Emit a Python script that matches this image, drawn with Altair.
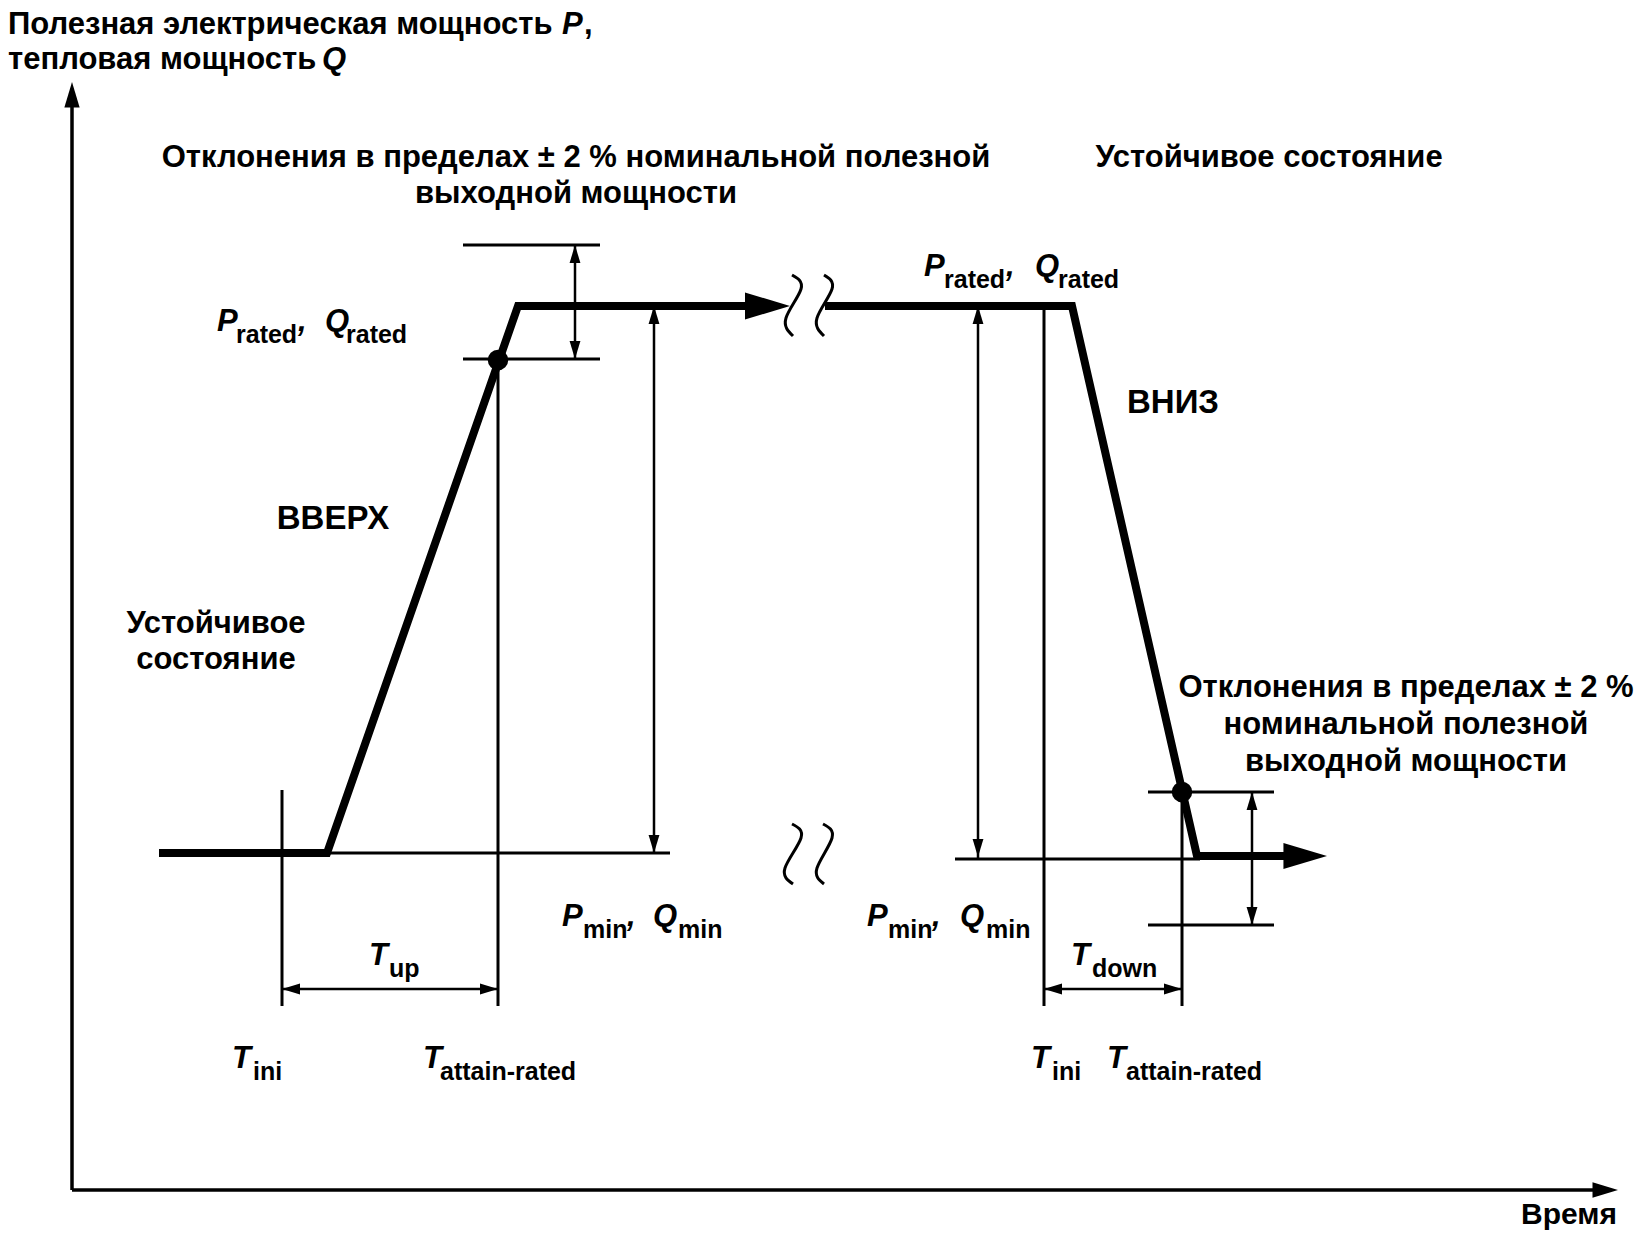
import altair as alt
import pandas as pd

FONT = "Liberation Sans"

# ---- thick profile (P/Q vs time) ----
thick_id = ["up", "up", "up", "up", "down", "down", "down", "down"]
thick_x = [159, 327, 518, 760, 825, 1072, 1197, 1300]
thick_y = [853, 853, 306, 306, 306, 306, 856, 856]
thick_ord = [0, 1, 2, 3, 4, 5, 6, 7]

# ---- thin segments (axes, guides, dimension lines) ----
thin_x1 = [72, 72, 463, 463, 575, 327, 282, 498, 654, 282, 978, 1044, 955, 1182, 1148, 1148, 1252, 1044]
thin_y1 = [1190, 1190, 245, 359, 245, 853, 790, 360, 306, 989, 306, 306, 859, 792, 792, 925, 792, 989]
thin_x2 = [72, 1605, 600, 600, 575, 670, 282, 498, 654, 498, 978, 1044, 1200, 1182, 1274, 1274, 1252, 1182]
thin_y2 = [95, 1190, 245, 359, 359, 853, 1006, 1006, 853, 989, 859, 1006, 859, 1006, 792, 925, 925, 989]
thin_w = [3.5, 3.5, 3, 3, 2.5, 3, 3, 3, 2.5, 2.5, 2.5, 3, 3, 3, 3, 3, 2.5, 2.5]

# ---- arrow heads: tip position, direction (deg, clockwise from right), size ----
arr_x = [790, 1327, 72, 1618, 575, 575, 654, 654, 282, 498, 978, 978, 1252, 1252, 1044, 1182]
arr_y = [306, 856, 82, 1190, 245, 359, 306, 853, 989, 989, 306, 857, 792, 925, 989, 989]
arr_ang = [0, 0, 270, 0, 270, 90, 270, 90, 180, 0, 270, 90, 270, 90, 180, 0]
arr_size = [8100, 7600, 2600, 2600, 1300, 1300, 1300, 1300, 1300, 1300, 1300, 1300, 1300, 1300, 1300, 1300]
ARROW = "M0,0L-1,-0.3L-1,0.3Z"

# ---- dots at ±2 % crossing ----
dot_x = [498, 1182]
dot_y = [360, 792]

# ---- break marks ----
brk_id = ["a"] * 4 + ["b"] * 4 + ["c"] * 4 + ["d"] * 4
brk_x = [792, 801, 786, 793, 824, 832, 817, 824, 792, 801, 785, 793, 823, 832, 817, 824]
brk_y = [275, 289, 318, 336, 275, 289, 318, 336, 824, 838, 868, 884, 824, 838, 868, 884]
brk_ord = [0, 1, 2, 3] * 4

# ---- texts ----
center_text = [
    "Отклонения в пределах ± 2 % номинальной полезной", "выходной мощности",
    "Устойчивое состояние", "Устойчивое", "состояние",
    "Отклонения в пределах ± 2 %", "номинальной полезной", "выходной мощности",
]
center_x = [576, 576, 1269, 216, 216, 1406, 1406, 1406]
center_y = [167, 203, 167, 633, 669, 697, 734, 771]

caps_text = ["ВВЕРХ", "ВНИЗ"]
caps_x = [333, 1173]
caps_y = [529, 413]

title_text = ["Полезная электрическая мощность", ",", "тепловая мощность"]
title_x = [8, 584, 8]
title_y = [34, 34, 69]

time_text = ["Время"]
time_x = [1617]
time_y = [1224]

sym_text = ["P", "Q", "P", "Q", "P", "Q", "P", "Q", "T", "T", "T", "T", "T", "T", "P", "Q",
            ",", ",", ",", ","]
sym_x = [217, 325, 924, 1035, 562, 653, 867, 960, 369, 1071, 232, 423, 1031, 1107, 562, 322,
         298, 1006, 627, 932]
sym_y = [331, 331, 276, 276, 926, 926, 926, 926, 965, 965, 1068, 1068, 1068, 1068, 34, 69,
         331, 276, 926, 926]

sub_text = ["rated", "rated", "rated", "rated", "min", "min", "min", "min", "up", "down",
            "ini", "attain-rated", "ini", "attain-rated"]
sub_x = [236, 346, 944, 1058, 583, 678, 888, 986, 389, 1092, 253, 440, 1052, 1126]
sub_y = [343, 343, 288, 288, 938, 938, 938, 938, 977, 977, 1080, 1080, 1080, 1080]

# ---------------------------------------------------------------
xs = alt.Scale(domain=[8, 1634], nice=False, zero=False)
ys = alt.Scale(domain=[8, 1232], nice=False, zero=False, reverse=True)


def X(f="x"):
    return alt.X(f"{f}:Q", scale=xs, axis=None)


def Y(f="y"):
    return alt.Y(f"{f}:Q", scale=ys, axis=None)


thick_df = pd.DataFrame({"id": thick_id, "x": thick_x, "y": thick_y, "o": thick_ord})
thin_df = pd.DataFrame({"x": thin_x1, "y": thin_y1, "x2": thin_x2, "y2": thin_y2, "w": thin_w})
arr_df = pd.DataFrame({"x": arr_x, "y": arr_y, "a": arr_ang, "s": arr_size})
dot_df = pd.DataFrame({"x": dot_x, "y": dot_y})
brk_df = pd.DataFrame({"id": brk_id, "x": brk_x, "y": brk_y, "o": brk_ord})

thick = alt.Chart(thick_df).mark_line(color="black", strokeWidth=8, strokeJoin="miter",
                                      strokeCap="butt").encode(
    x=X(), y=Y(), detail="id:N", order="o:Q")

thin = alt.Chart(thin_df).mark_rule(color="black").encode(
    x=X(), y=Y(), x2="x2:Q", y2="y2:Q",
    strokeWidth=alt.StrokeWidth("w:Q", scale=None))

arrows = alt.Chart(arr_df).mark_point(shape=ARROW, filled=True, color="black", opacity=1,
                                      strokeWidth=0).encode(
    x=X(), y=Y(), angle=alt.Angle("a:Q", scale=None), size=alt.Size("s:Q", scale=None))

dots = alt.Chart(dot_df).mark_point(shape="circle", filled=True, color="black", opacity=1,
                                    size=420).encode(x=X(), y=Y())

breaks = alt.Chart(brk_df).mark_line(color="black", strokeWidth=3, interpolate="natural").encode(
    x=X(), y=Y(), detail="id:N", order="o:Q")


def texts(t, xv, yv, align, size, weight="bold", style="normal"):
    df = pd.DataFrame({"t": t, "x": xv, "y": yv})
    return alt.Chart(df).mark_text(font=FONT, fontSize=size, fontWeight=weight, fontStyle=style,
                                   align=align, baseline="alphabetic", color="black").encode(
        x=X(), y=Y(), text="t:N")


layers = [
    thin, thick, breaks, arrows, dots,
    texts(center_text, center_x, center_y, "center", 31),
    texts(caps_text, caps_x, caps_y, "center", 33),
    texts(title_text, title_x, title_y, "left", 31),
    texts(time_text, time_x, time_y, "right", 30),
    texts(sym_text, sym_x, sym_y, "left", 31, style="italic"),
    texts(sub_text, sub_x, sub_y, "left", 25),
]

chart = alt.layer(*layers).properties(
    width=1626, height=1224, padding=0, autosize="none"
).configure_view(stroke=None)

chart.save("out.html", embed_options={"renderer": "svg", "actions": False})
